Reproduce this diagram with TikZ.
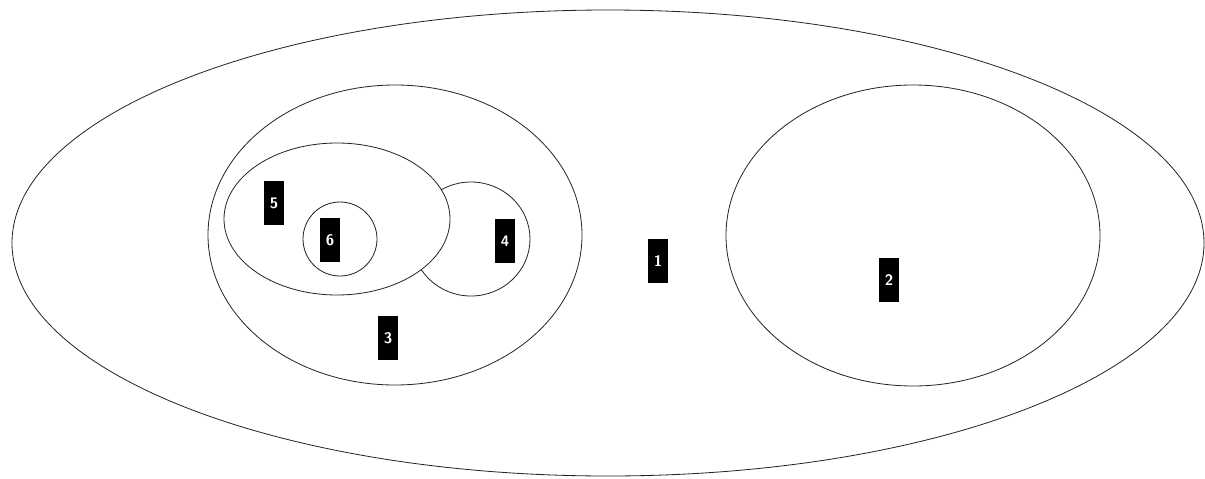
\documentclass[tikz,border=0pt]{standalone}
\usepackage{tikz}
\usetikzlibrary{positioning}

\begin{document}
\begin{tikzpicture}[
    x=0.03cm, y=-0.03cm,
    setline/.style={draw=black!85, line width=0.7pt},
    tag/.style={rectangle, fill=black, text=white, minimum width=0.6cm, minimum height=1.3cm,
        inner sep=0pt, font=\fontsize{13}{13}\selectfont\sffamily\bfseries},
]
\useasboundingbox (0,0) rectangle (1205,479);
% outer set
\draw[setline] (608,243) ellipse [x radius=596, y radius=233];
% left and right sets
\draw[setline] (395,235) ellipse [x radius=187, y radius=150];
\draw[setline] (913,235.5) ellipse [x radius=187, y radius=150.5];
% inner sets (4 hidden under 5)
\draw[setline] (471,239) ellipse [x radius=59, y radius=57];
\draw[setline, fill=white] (337,219) ellipse [x radius=113, y radius=76];
\draw[setline] (340,239) ellipse [x radius=37, y radius=37];
% labels
\node[tag] (one) at (658,261) {1};
\node[tag] (two) at (889,280) {2};
\node[tag] (three) at (388,338) {3};
\node[tag] (four) at (505,241) {4};
\node[tag] (five) at (274,203) {5};
\node[tag] (six) at (330,240) {6};
\end{tikzpicture}
\end{document}
